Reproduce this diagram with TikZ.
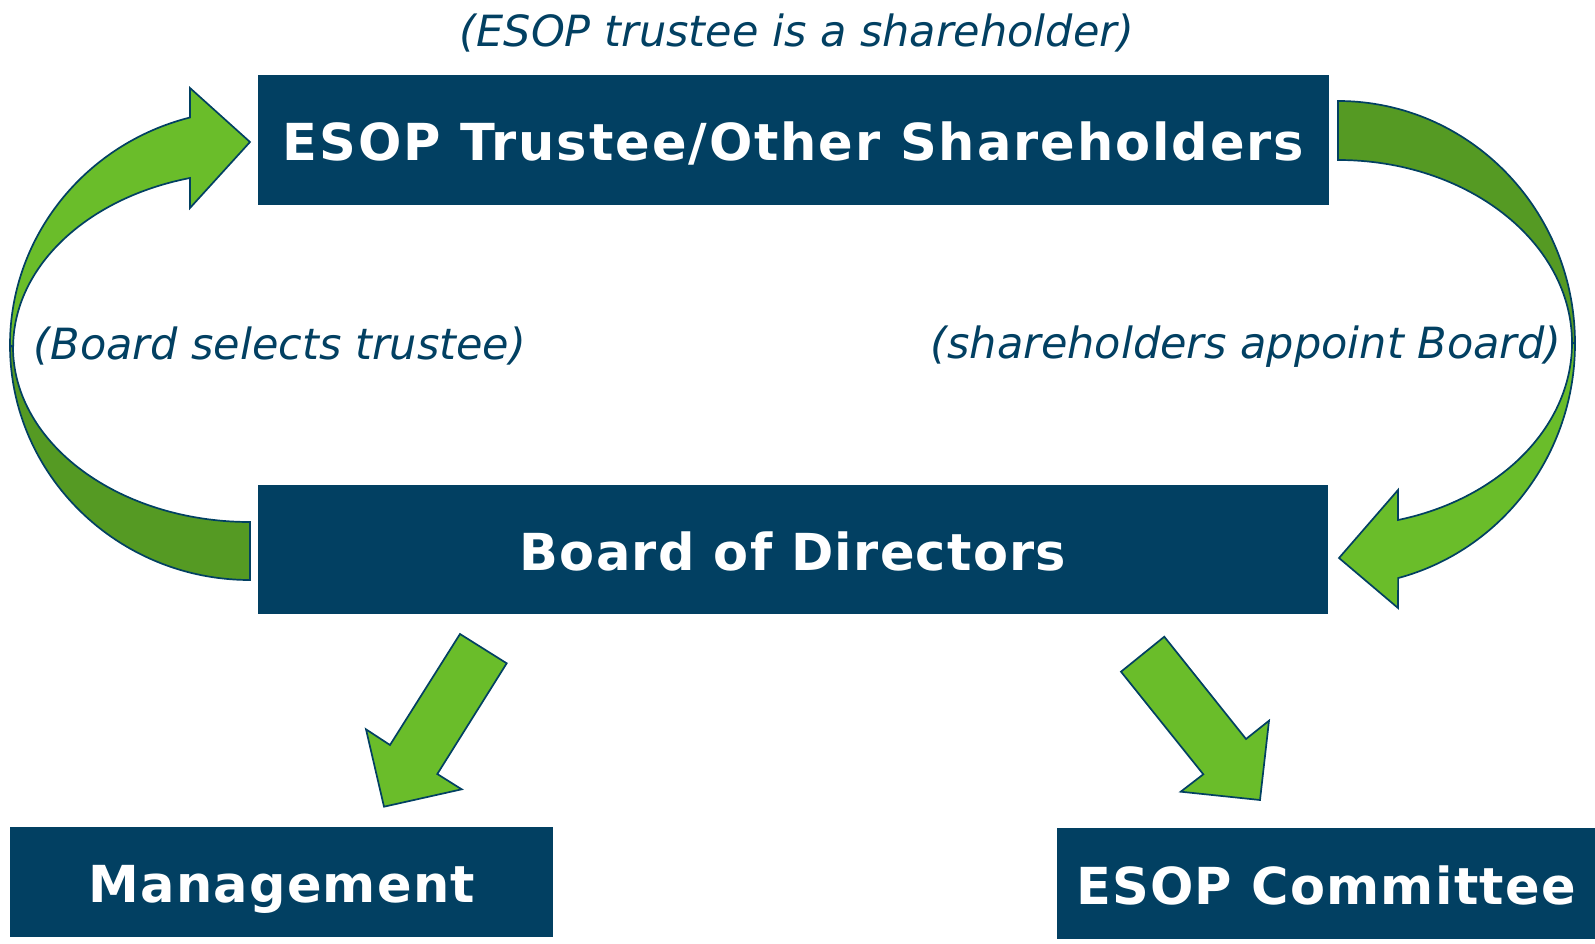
\documentclass[tikz,border=0pt]{standalone}
\usepackage{fontspec}
\setmainfont{DejaVu Sans}
\definecolor{navy}{RGB}{2,64,98}
\definecolor{leafgreen}{RGB}{106,189,42}
\definecolor{darkleaf}{RGB}{85,154,35}
\tikzset{
  box/.style={fill=navy, text=white, inner sep=0pt, text height=41pt, text depth=0pt,
    font=\fontsize{51}{60}\bfseries\addfontfeatures{LetterSpace=2.5}\selectfont},
  widebox/.style={box, font=\fontsize{51}{60}\bfseries\addfontfeatures{LetterSpace=3.8}\selectfont},
  note/.style={text=navy, inner sep=0pt, font=\fontsize{43}{50}\itshape\selectfont},
  blockarrow/.style={draw=navy, line width=1.7pt, line join=miter},
}
\begin{document}
\begin{tikzpicture}[x=1pt, y=-1pt]
\useasboundingbox (0,0) rectangle (1595,944);

% boxes
\node[widebox, minimum width=1071pt, minimum height=130pt] (holders) at (793.5,140) {ESOP Trustee/Other Shareholders};
\node[box, minimum width=1070pt, minimum height=129pt] (board) at (793,549.5) {Board of Directors};
\node[box, minimum width=543pt, minimum height=110pt] (mgmt) at (281.8,882) {Management};
\node[box, minimum width=538pt, minimum height=111pt] (committee) at (1326,883.5) {ESOP Committee};

% labels
\node[note] (lbltop) at (797,33) {(ESOP trustee is a shareholder)};
\node[note] (lblleft) at (280,346) {(Board selects trustee)};
\node[note] (lblright) at (1246,347) {(shareholders appoint Board)};

% left curved arrow: board -> trustee
\filldraw[blockarrow, fill=darkleaf]
  (10,345) arc[start angle=180, end angle=90, x radius=240, y radius=235]
  -- (250,522) arc[start angle=90, end angle=180, x radius=237, y radius=175] -- cycle;
\filldraw[blockarrow, fill=leafgreen]
  (10,345) arc[start angle=180, end angle=255.5, x radius=240, y radius=235]
  -- (190,88) -- (250,142) -- (190,208) -- (190,178)
  arc[start angle=255.3, end angle=180, x radius=237, y radius=175] -- cycle;

% right curved arrow: shareholders -> board
\filldraw[blockarrow, fill=darkleaf]
  (1338,101) arc[start angle=-90, end angle=0, x radius=237, y radius=242.5]
  -- (1572,343) arc[start angle=0, end angle=-90, x radius=234, y radius=183] -- cycle;
\filldraw[blockarrow, fill=leafgreen]
  (1575,343.5) arc[start angle=0, end angle=75.3, x radius=237, y radius=242.5]
  -- (1398,608) -- (1339,558) -- (1398,490) -- (1398,520)
  arc[start angle=75.14, end angle=0, x radius=234, y radius=183] -- cycle;

% straight arrows below the board
\filldraw[blockarrow, fill=leafgreen]
  (460,634) -- (506.7,663.3) -- (437.3,774) -- (461.7,789.3) -- (384,806.7)
  -- (366,729.3) -- (390,745) -- cycle;
\filldraw[blockarrow, fill=leafgreen]
  (1164.3,636.7) -- (1246,739) -- (1269,720.7) -- (1260,800) -- (1180.7,791.7)
  -- (1203.3,774.3) -- (1121,671.7) -- cycle;
\end{tikzpicture}
\end{document}
